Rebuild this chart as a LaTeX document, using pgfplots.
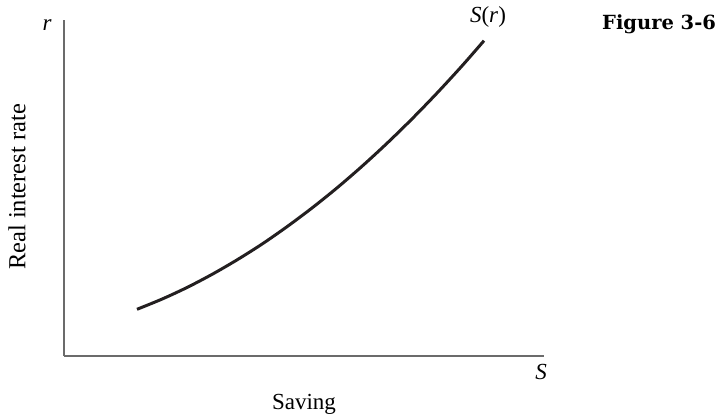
\documentclass[border=0pt]{standalone}
\usepackage{pgfplots}
\pgfplotsset{compat=1.18}
\usepackage{fontspec}
\setmainfont{Liberation Serif}
\newfontfamily\figfont{DejaVu Serif}
\definecolor{axisgray}{HTML}{6B6B6B}
\definecolor{curveblack}{HTML}{231F20}
\begin{document}
\begin{tikzpicture}
\path[use as bounding box] (0,0) rectangle (716pt,416pt);
\begin{axis}[
  at={(64pt,60pt)}, anchor=south west,
  scale only axis, width=480pt, height=336pt,
  xmin=64, xmax=544, ymin=60, ymax=396,
  axis x line*=bottom, axis y line*=left,
  axis line style={-, draw=axisgray, line width=1.5pt},
  xtick=\empty, ytick=\empty,
  clip=false,
]
\addplot[curveblack, line width=3pt, smooth, line cap=butt] coordinates {
  (137,106.7) (162,116.9) (187,128.5) (212,141.6) (237,156.1)
  (262,171.9) (287,189.3) (312,208.0) (337,228.1) (362,249.7)
  (387,272.7) (412,297.1) (437,322.9) (462,350.1) (484,375.3)
};
\node[font=\fontsize{23}{26}\selectfont\itshape] at (axis cs:47,391) {r};
\node[font=\fontsize{23}{26}\selectfont] at (axis cs:488,399) {\textit{S}(\textit{r})};
\node[font=\fontsize{23}{26}\selectfont\itshape] at (axis cs:541,44) {S};
\node[font=\fontsize{23}{26}\selectfont] at (axis cs:304,12) {Saving};
\node[font=\fontsize{24.5}{27}\selectfont, rotate=90] at (axis cs:17,229) {Real interest rate};
\node[font=\figfont\bfseries\fontsize{19.5}{22}\selectfont, anchor=west, inner sep=0pt] at (axis cs:602,392) {Figure 3-6};
\end{axis}
\end{tikzpicture}
\end{document}
